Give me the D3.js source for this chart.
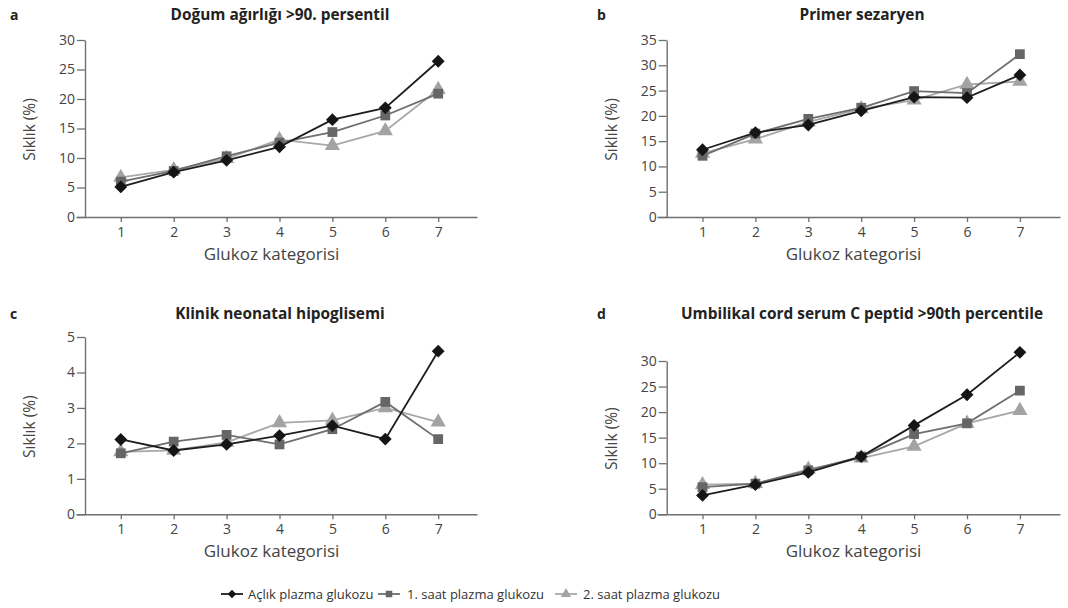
<!DOCTYPE html>
<html>
<head>
<meta charset="utf-8">
<script src="https://cdn.jsdelivr.net/npm/d3@7"></script>
<style>
  body { margin: 0; background: #fff; }
  svg text { font-family: "Open Sans", "Noto Sans", sans-serif; }
</style>
</head>
<body>
<div class="chart"></div>
<script>
const categories = [1, 2, 3, 4, 5, 6, 7];
const seriesNames = ['Açlık plazma glukozu', '1. saat plazma glukozu', '2. saat plazma glukozu'];

// a - Doğum ağırlığı >90. persentil
const birthFasting = [5.1, 7.6, 9.6, 11.9, 16.5, 18.5, 26.4];
const birthHour1 = [6.0, 7.8, 10.3, 12.6, 14.4, 17.2, 20.9];
const birthHour2 = [6.7, 8.0, 9.9, 13.1, 12.1, 14.6, 21.6];
const birthTicks = [0, 5, 10, 15, 20, 25, 30];

// b - Primer sezaryen
const cesFasting = [13.3, 16.7, 18.2, 21.0, 23.7, 23.6, 28.1];
const cesHour1 = [12.1, 16.5, 19.4, 21.6, 24.9, 24.5, 32.2];
const cesHour2 = [12.6, 15.4, 18.8, 21.4, 23.1, 26.2, 26.8];
const cesTicks = [0, 5, 10, 15, 20, 25, 30, 35];

// c - Klinik neonatal hipoglisemi
const hypoFasting = [2.11, 1.8, 1.97, 2.22, 2.5, 2.12, 4.6];
const hypoHour1 = [1.72, 2.05, 2.24, 1.97, 2.4, 3.17, 2.12];
const hypoHour2 = [1.76, 1.8, 2.03, 2.58, 2.65, 3.0, 2.6];
const hypoTicks = [0, 1, 2, 3, 4, 5];

// d - Umbilikal cord serum C peptid
const cpepFasting = [3.7, 5.8, 8.2, 11.3, 17.4, 23.4, 31.7];
const cpepHour1 = [5.3, 6.0, 8.6, 11.3, 15.7, 17.8, 24.2];
const cpepHour2 = [5.8, 6.0, 8.8, 11.0, 13.3, 17.8, 20.3];
const cpepTicks = [0, 5, 10, 15, 20, 25, 30];

const styles = [
  { color: '#151515', line: '#1e1e1e', symbol: d3.symbolDiamond2, size: 105 },
  { color: '#666666', line: '#6e6e6e', symbol: d3.symbolSquare, size: 95 },
  { color: '#a3a3a3', line: '#a8a8a8', symbol: d3.symbolTriangle, size: 100 }
];

const panels = [
  { letter: 'a', title: 'Doğum ağırlığı >90. persentil', series: [birthFasting, birthHour1, birthHour2], ticks: birthTicks,
    left: 85, x0: 76, x1: 477, top: 40, bottom: 217, titleX: 280, titleY: 20, letterX: 10 },
  { letter: 'b', title: 'Primer sezaryen', series: [cesFasting, cesHour1, cesHour2], ticks: cesTicks,
    left: 666.7, x0: 657, x1: 1060, top: 40, bottom: 217, titleX: 862, titleY: 20, letterX: 597 },
  { letter: 'c', title: 'Klinik neonatal hipoglisemi', series: [hypoFasting, hypoHour1, hypoHour2], ticks: hypoTicks,
    left: 85, x0: 76, x1: 477, top: 337, bottom: 514.3, titleX: 280, titleY: 319, letterX: 10 },
  { letter: 'd', title: 'Umbilikal cord serum C peptid >90th percentile', series: [cpepFasting, cpepHour1, cpepHour2], ticks: cpepTicks,
    left: 666.7, x0: 657, x1: 1060, top: 361, bottom: 514.3, titleX: 862, titleY: 319, letterX: 597 }
];

const width = 1068, height = 608;
const svg = d3.select('.chart').append('svg')
  .attr('width', width)
  .attr('height', height);

panels.forEach((p) => {
  const g = svg.append('g');
  // first category sits ~36px right of the y axis, categories ~52.9px apart
  const step = 52.9;
  const xStart = p.left + 35.8;
  const x = d3.scaleLinear()
    .domain([1 - (xStart - p.x0) / step, 1 + (p.x1 - xStart) / step])
    .range([p.x0, p.x1]);
  const y = d3.scaleLinear()
    .domain([0, d3.max(p.ticks)])
    .range([p.bottom, p.top]);

  // x axis
  const xAxis = g.append('g')
    .attr('transform', `translate(0,${p.bottom})`)
    .call(d3.axisBottom(x).tickValues(categories).tickSize(5).tickSizeOuter(0).tickPadding(5));
  // y axis
  const yAxis = g.append('g')
    .attr('transform', `translate(${p.left},0)`)
    .call(d3.axisLeft(y).tickValues(p.ticks).tickFormat(d3.format('d')).tickSize(8).tickSizeOuter(0).tickPadding(2));

  [xAxis, yAxis].forEach((ax) => {
    ax.select('.domain').attr('stroke', '#707070').attr('stroke-width', 1.4);
    ax.selectAll('.tick line').attr('stroke', '#707070').attr('stroke-width', 1.3);
    ax.selectAll('.tick text').attr('fill', '#444').style('font-size', '14px');
  });

  // titles
  g.append('text')
    .attr('x', p.letterX).attr('y', p.titleY)
    .attr('font-weight', 'bold').attr('font-size', 14).attr('fill', '#222')
    .text(p.letter);
  g.append('text')
    .attr('x', p.titleX).attr('y', p.titleY)
    .attr('text-anchor', 'middle')
    .attr('font-weight', 'bold').attr('font-size', 15.4).attr('fill', '#222')
    .text(p.title);

  g.append('text')
    .attr('x', (p.x0 + p.x1) / 2 - 5).attr('y', p.bottom + 43)
    .attr('text-anchor', 'middle')
    .attr('font-size', 17).attr('fill', '#444')
    .text('Glukoz kategorisi');

  g.append('text')
    .attr('transform', `translate(${p.left - 50},${(p.top + p.bottom) / 2 + 1}) rotate(-90)`)
    .attr('text-anchor', 'middle')
    .attr('font-size', 15.5).attr('fill', '#444')
    .text('Sıklık (%)');

  // lines + markers, light series first so black is on top
  [2, 1, 0].forEach((si) => {
    const st = styles[si];
    const vals = p.series[si];
    const pts = categories.map((c, i) => ({ c, v: vals[i] }));
    g.append('path').datum(pts)
      .attr('fill', 'none')
      .attr('stroke', st.line)
      .attr('stroke-width', 1.8)
      .attr('d', d3.line().x((d) => x(d.c)).y((d) => y(d.v)));
    g.selectAll(null).data(pts).enter().append('path')
      .attr('transform', (d) => `translate(${x(d.c)},${y(d.v)})`)
      .attr('d', d3.symbol().type(st.symbol).size(st.size))
      .attr('fill', st.color);
  });
});

// legend
const legendItems = [
  { x: 221, textX: 248 },
  { x: 378, textX: 407 },
  { x: 555, textX: 583 }
];
const legendY = 594;
const legend = svg.append('g');
legendItems.forEach((it, i) => {
  const st = styles[i];
  legend.append('line')
    .attr('x1', it.x).attr('x2', it.x + 22)
    .attr('y1', legendY).attr('y2', legendY)
    .attr('stroke', st.line).attr('stroke-width', 1.8);
  legend.append('path')
    .attr('transform', `translate(${it.x + 11},${legendY})`)
    .attr('d', d3.symbol().type(st.symbol).size(st.size * 0.45))
    .attr('fill', st.color);
  legend.append('text')
    .attr('x', it.textX).attr('y', legendY + 4.5)
    .attr('font-size', 13).attr('fill', '#333')
    .text(seriesNames[i]);
});
</script>
</body>
</html>
